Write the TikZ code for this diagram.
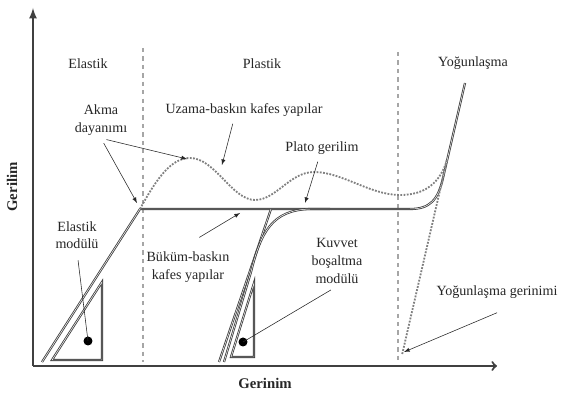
\documentclass[tikz,border=0pt]{standalone}
\usepackage{fontspec}
\setmainfont{Liberation Serif}
\usepackage{tikz}
\usetikzlibrary{arrows,positioning}

\begin{document}
\begin{tikzpicture}[x=0.025cm, y=-0.025cm,
        lbl/.style={align=center, fill=white, inner sep=2pt, font=\fontsize{10}{12.5}\selectfont, text=black!85},
        axlbl/.style={font=\fontsize{10.5}{12}\selectfont\bfseries, text=black!85},
        axis/.style={line width=1.5pt, draw=black!75},
        curve/.style={draw=black!75, double=white, double distance=0.35pt, line width=0.6pt},
        dots/.style={densely dotted, line width=1.3pt, draw=black!50},
        bound/.style={dashed, line width=0.8pt, draw=black!35},
        pointer/.style={-latex, thin, draw=black!85},
        lead/.style={thin, draw=black!85},
        dot/.style={circle, fill=black, inner sep=0pt, minimum size=6.4pt}
    ]
        \useasboundingbox (0,0) rectangle (562,394);

        % axes
        \coordinate (o) at (33,366);
        \coordinate (ytop) at (33,8);
        \coordinate (xend) at (497,366);
        \draw[axis, -latex] (o) -- (ytop);
        \draw[axis, -to] (o) -- (xend);
        \node[axlbl, rotate=90] (ylab) at (12,187) {Gerilim};
        \node[axlbl] (xlab) at (265,383) {Gerinim};

        % region boundaries
        \draw[bound] (143,48) -- (143,362);
        \draw[bound] (398,52) -- (398,362);

        % stress-strain curves
        \coordinate (yld) at (140,209);
        \draw[curve] (42,362) -- (yld) -- (410,209) .. controls (430,209) and (438,200) .. (443,178) -- (465,83);
        \draw[curve] (219,362) -- (271,209);
        \draw[curve] (224,362) -- (251,272) .. controls (261,232) and (272,210) .. (310,209) -- (330,209);
        \draw[dots] (yld) .. controls (158,176) and (172,158) .. (190,158)
            .. controls (215,158) and (232,200) .. (255,200)
            .. controls (276,200) and (290,172) .. (314,172)
            .. controls (342,172) and (370,195) .. (400,195)
            .. controls (425,195) and (440,183) .. (447,160);
        \draw[dots] (447,160) -- (402,355);

        % modulus triangles
        \draw[curve] (52,360) -- (102,282) -- (102,360) -- cycle;
        \draw[curve] (231,357) -- (254,283) -- (254,357) -- cycle;
        \node[dot] (edot) at (88,341) {};
        \node[dot] (kdot) at (243,342) {};

        % labels
        \node[lbl] (elas) at (88,64) {Elastik};
        \node[lbl] (plas) at (262,64) {Plastik};
        \node[lbl] (yog) at (473,63) {Yoğunlaşma};
        \node[lbl] (akma) at (101,120) {Akma\\dayanımı};
        \node[lbl] (uzama) at (244,110) {Uzama-baskın kafes yapılar};
        \node[lbl] (plato) at (322,148) {Plato gerilim};
        \node[lbl] (emod) at (77,235) {Elastik\\modülü};
        \node[lbl] (bukum) at (188,267) {Büküm-baskın\\kafes yapılar};
        \node[lbl] (kuvvet) at (337,261) {Kuvvet\\boşaltma\\modülü};
        \node[lbl] (yger) at (497,292) {Yoğunlaşma gerinimi};

        % pointers
        \coordinate (akpk) at (187,159);
        \coordinate (akyl) at (137,203);
        \coordinate (uzpt) at (222,165);
        \coordinate (plpt) at (305,203);
        \coordinate (bkpt) at (240,213);
        \coordinate (ygpt) at (404,352);
        \draw[pointer, shorten <=4pt] (akma.south) -- (akpk);
        \draw[pointer, shorten <=4pt] (akma.south) -- (akyl);
        \draw[pointer] ([xshift=-8pt, yshift=-3pt]uzama.south) -- (uzpt);
        \draw[pointer] ([xshift=-3pt, yshift=-3pt]plato.south) -- (plpt);
        \draw[pointer] ([xshift=8pt, yshift=8pt]bukum.north) -- (bkpt);
        \draw[pointer] ([yshift=-8pt]yger.south) -- (ygpt);
        \draw[lead, shorten <=6pt] (emod.south) -- (edot.center);
        \draw[lead, shorten <=5pt] (kuvvet.south) -- (kdot.center);
    \end{tikzpicture}
\end{document}
